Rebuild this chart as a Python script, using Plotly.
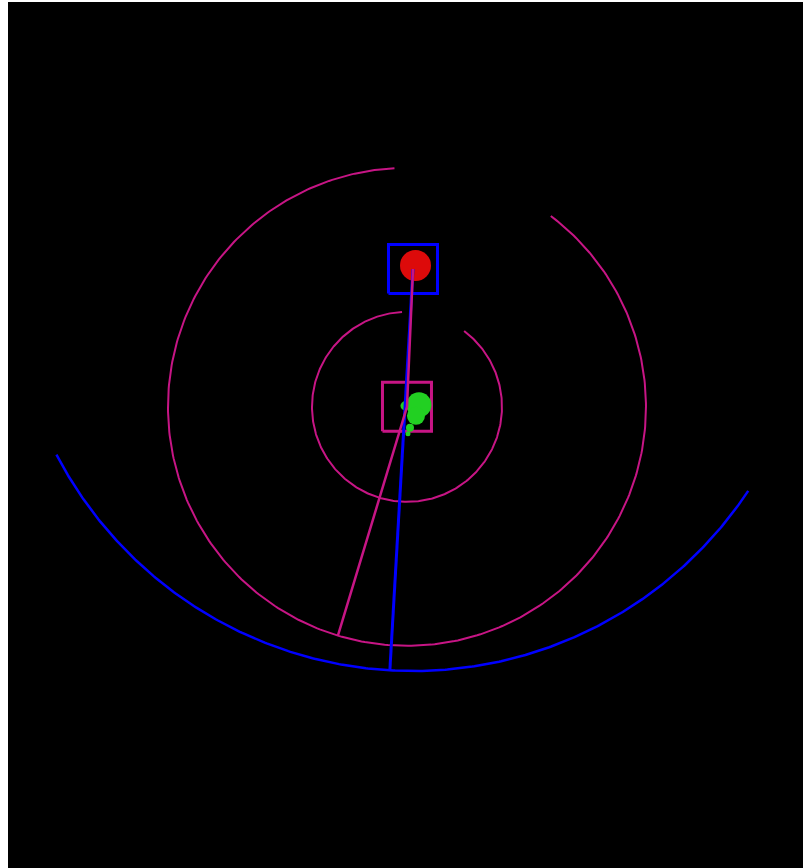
import numpy as np
import plotly.graph_objects as go

# ---- data (units = screen px, y up, origin at the pivot) ----
pivot = [0.0, 0.0]
# single (blue) pendulum
blue_length = 402.0
blue_angle_deg = -3.3          # from vertical-down, + to the right
blue_arc_start_deg = -152.5    # polar angle of the swept arc
blue_arc_end_deg = -33.5
# double (magenta) pendulum
mag_len1 = 138.0
mag_ang1_deg = -2.5
mag_len2 = 239.0
mag_ang2_deg = -16.8
mag_circle_radii = [239.0, 95.0]
mag_gap_deg = [53.0, 93.0]     # missing part of the magenta circles
# boxes and bodies
box_half = 24.5
red_offset = [2.5, 3.5]
red_size = 31
green_x = [12.0, 9.0, -2.0, 3.0, 1.0]
green_y = [2.0, -9.0, 1.0, -21.0, -27.0]
green_size = [25, 18, 9, 8, 5]

x_range = [-405, 390]
y_range = [-599, 267]

MAG = "#C71585"
BLUE = "#0000FF"
GREEN = "#22D022"

def bob(origin, length, ang_deg):
    a = np.radians(ang_deg)
    return [origin[0] + length * np.sin(a), origin[1] - length * np.cos(a)]

def arc(center, r, a0, a1, n=400):
    t = np.radians(np.linspace(a0, a1, n))
    return center[0] + r * np.cos(t), center[1] + r * np.sin(t)

def square(c, h):
    return ([c[0]-h, c[0]+h, c[0]+h, c[0]-h, c[0]-h],
            [c[1]-h, c[1]-h, c[1]+h, c[1]+h, c[1]-h])

blue_end = bob(pivot, blue_length, blue_angle_deg)
b1 = bob(pivot, mag_len1, mag_ang1_deg)
b2 = bob(b1, mag_len2, mag_ang2_deg)

fig = go.Figure()

# magenta arcs (circles with a gap)
for r in mag_circle_radii:
    ax, ay = arc(b1, r, mag_gap_deg[1], mag_gap_deg[0] + 360)
    fig.add_trace(go.Scatter(x=ax, y=ay, mode="lines", line=dict(color=MAG, width=2)))

# blue arc
ax, ay = arc(pivot, blue_length, blue_arc_start_deg, blue_arc_end_deg)
fig.add_trace(go.Scatter(x=ax, y=ay, mode="lines", line=dict(color=BLUE, width=2.5)))

# boxes
sx, sy = square(pivot, box_half)
fig.add_trace(go.Scatter(x=sx, y=sy, mode="lines", line=dict(color=BLUE, width=3)))
sx, sy = square(b1, box_half)
fig.add_trace(go.Scatter(x=sx, y=sy, mode="lines", line=dict(color=MAG, width=3)))

# red body at pivot
fig.add_trace(go.Scatter(x=[pivot[0] + red_offset[0]], y=[pivot[1] + red_offset[1]],
                         mode="markers", marker=dict(color="#DD0A0A", size=red_size, line=dict(width=0))))
# green body
fig.add_trace(go.Scatter(x=[b1[0] + v for v in green_x], y=[b1[1] + v for v in green_y],
                         mode="markers", marker=dict(color=GREEN, size=green_size, opacity=1,
                                                     line=dict(width=0))))

# blue rod
fig.add_trace(go.Scatter(x=[pivot[0], blue_end[0]], y=[pivot[1], blue_end[1]],
                         mode="lines", line=dict(color=BLUE, width=3)))
# magenta rods
fig.add_trace(go.Scatter(x=[pivot[0], b1[0], b2[0]], y=[pivot[1], b1[1], b2[1]],
                         mode="lines", line=dict(color=MAG, width=2.5)))

fig.update_layout(
    width=795, height=866,
    margin=dict(l=0, r=0, t=0, b=0),
    paper_bgcolor="black", plot_bgcolor="black",
    showlegend=False,
    xaxis=dict(range=x_range, visible=False, showgrid=False, zeroline=False),
    yaxis=dict(range=y_range, visible=False, showgrid=False, zeroline=False),
)
fig.write_html("out.html",
               post_script="document.body.style.margin='2px 0 0 8px';")
